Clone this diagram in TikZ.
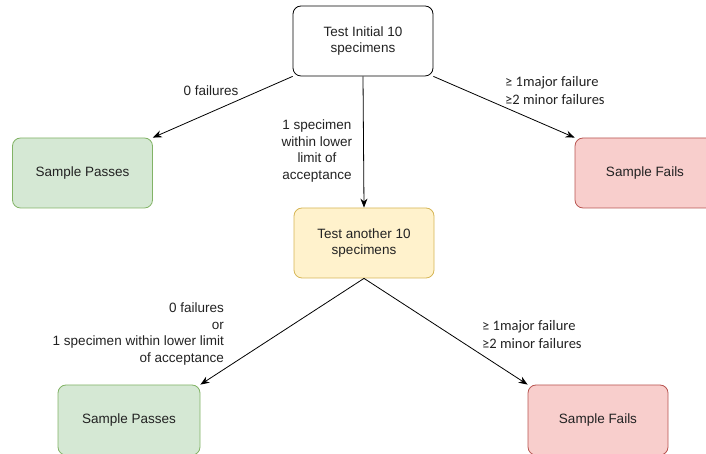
\documentclass[tikz,border=0pt]{standalone}
\usepackage{fontspec}
\setmainfont{Liberation Sans}
\newfontfamily\calib{Carlito}
\usetikzlibrary{arrows.meta}
\definecolor{gfill}{HTML}{D5E8D4}\definecolor{gline}{HTML}{82B366}
\definecolor{yfill}{HTML}{FFF2CC}\definecolor{yline}{HTML}{D6B656}
\definecolor{rfill}{HTML}{F8CECC}\definecolor{rline}{HTML}{B85450}
\definecolor{txt}{HTML}{222222}
\tikzset{
  box/.style={rectangle, rounded corners=8pt, minimum width=140pt, minimum height=70pt, align=center, font=\fontsize{13.5}{16.5}\selectfont, text=txt, line width=0.8pt},
  whitebox/.style={box, draw=black, fill=white},
  passbox/.style={box, draw=gline, fill=gfill},
  waitbox/.style={box, draw=yline, fill=yfill},
  failbox/.style={box, draw=rline, fill=rfill},
  conn/.style={draw=black, line width=0.8pt, -{Stealth[length=9pt,width=7pt]}},
  lbl/.style={font=\fontsize{13.5}{16.5}\selectfont, text=txt, inner sep=0pt},
  clbl/.style={font=\calib\fontsize{14.5}{18}\selectfont, text=txt, inner sep=0pt, align=left}
}
\begin{document}
\begin{tikzpicture}[x=1pt,y=1pt]
\useasboundingbox (0,0) rectangle (706,454);
\node[whitebox] (top) at (363,454-41) {Test Initial 10\\specimens};
\node[passbox] (p1) at (82.5,454-173) {Sample Passes};
\node[failbox] (f1) at (645,454-173) {Sample Fails};
\node[waitbox] (mid) at (364,454-243) {Test another 10\\specimens};
\node[passbox, minimum width=142pt] (p2) at (129,454-420) {Sample Passes};
\node[failbox] (f2) at (598,454-420) {Sample Fails};

\draw[conn] (top.south west) -- (p1.north east);
\draw[conn] (top.south east) -- (f1.north west);
\draw[conn] (top.south) -- (mid.north);
\draw[conn] (mid.south) -- (p2.north east);
\draw[conn] (mid.south) -- (f2.north west);

\node[lbl] (l1) at (211,454-91) {0 failures};
\node[clbl, anchor=west] (l2) at (505,454-91) {≥ 1major failure\\≥2 minor failures};
\node[lbl, align=center] (l3) at (317,454-151) {1 specimen\\within lower\\limit of\\acceptance};
\node[lbl, align=right, anchor=east] (l4) at (224,454-334) {0 failures\\or\\1 specimen within lower limit\\of acceptance};
\node[clbl, anchor=west] (l5) at (482,454-335) {≥ 1major failure\\≥2 minor failures};
\end{tikzpicture}
\end{document}
